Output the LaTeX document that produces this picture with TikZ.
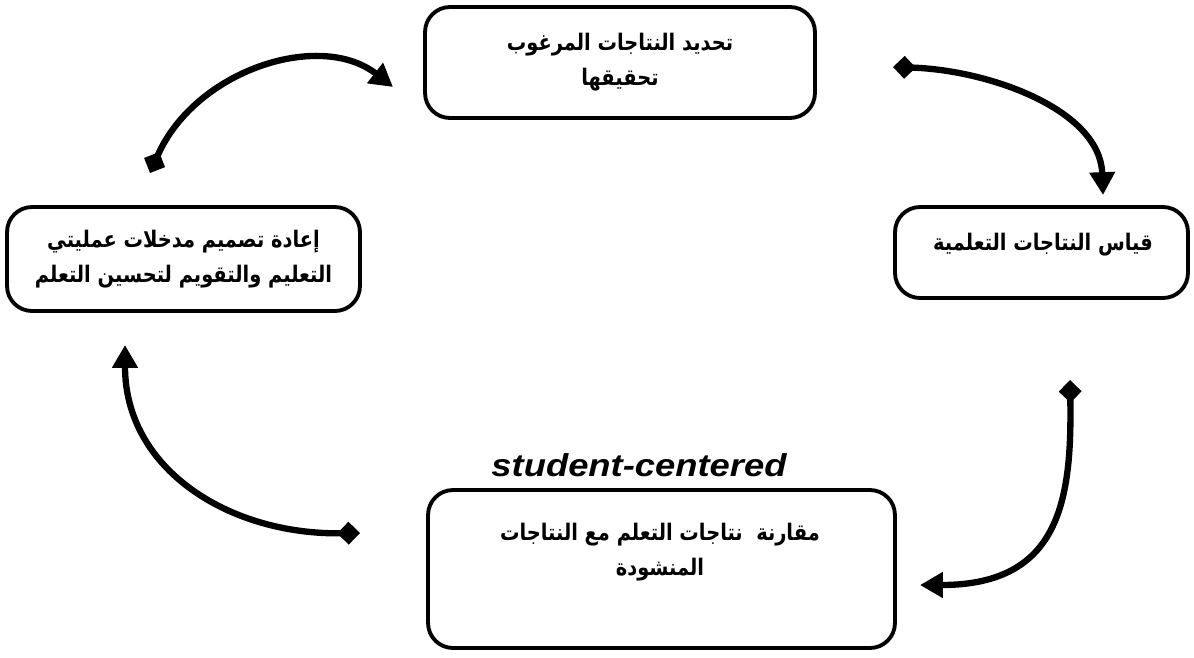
\documentclass[tikz,border=0pt]{standalone}
\usepackage{fontspec}
\usetikzlibrary{arrows.meta}
\TeXXeTstate=1
\newfontfamily\arabicfont[Script=Arabic,FakeStretch=0.85]{DejaVu Sans}
\newfontfamily\latinfont[FakeStretch=1.15]{Liberation Sans}
\newcommand{\rl}[1]{\beginR #1\endR}

\begin{document}
\begin{tikzpicture}[x=0.02cm,y=-0.02cm,
  stage/.style={draw=black,line width=2.2pt,rounded corners=0.5cm,inner sep=0pt},
  stagetext/.style={font=\arabicfont\bfseries\fontsize{13}{20}\selectfont,align=center,inner sep=0pt},
  cycle/.style={line width=3.6pt,{Diamond[length=13pt,width=13pt]}-{Triangle[length=13pt,width=14pt]}}]
\useasboundingbox (0,0) rectangle (1194,657);
\node[stage,stagetext,minimum width=7.8cm,minimum height=2.22cm] (goals) at (620,62.5) {\rl{تحديد النتاجات المرغوب}\\\rl{تحقيقها}};
\node[stage,stagetext,minimum width=7.06cm,minimum height=2.08cm] (redesign) at (183.5,259) {\rl{إعادة تصميم مدخلات عمليتي}\\\rl{التعليم والتقويم لتحسين التعلم}};
\node[stage,minimum width=5.86cm,minimum height=1.82cm] (measure) at (1041.5,252.5) {};
\node[stagetext] (measuretext) at (1043,245) {\rl{قياس النتاجات التعلمية}};
\node[stage,minimum width=9.34cm,minimum height=3.16cm] (compare) at (661.5,569) {};
\node[stagetext] (comparetext) at (660,552) {\rl{مقارنة\ \ نتاجات التعلم مع النتاجات}\\\rl{المنشودة}};
\node[font=\latinfont\bfseries\itshape\fontsize{18}{20}\selectfont,anchor=base] (centered) at (639,476) {student-centered};
\coordinate (s1) at (150,173);
\coordinate (e1) at (393,87);
\coordinate (s2) at (893,67);
\coordinate (e2) at (1103,195);
\coordinate (s3) at (1070,380);
\coordinate (e3) at (920,585);
\coordinate (s4) at (360,533);
\coordinate (e4) at (125,345);
\draw[cycle] (s1) .. controls +(45,-103) and +(-73,-57) .. (e1);
\draw[cycle] (s2) .. controls +(97,3) and +(-3,-85) .. (e2);
\draw[cycle] (s3) .. controls +(2,120) and +(140,0) .. (e3);
\draw[cycle] (s4) .. controls +(-130,2) and +(0,125) .. (e4);
\end{tikzpicture}
\end{document}
